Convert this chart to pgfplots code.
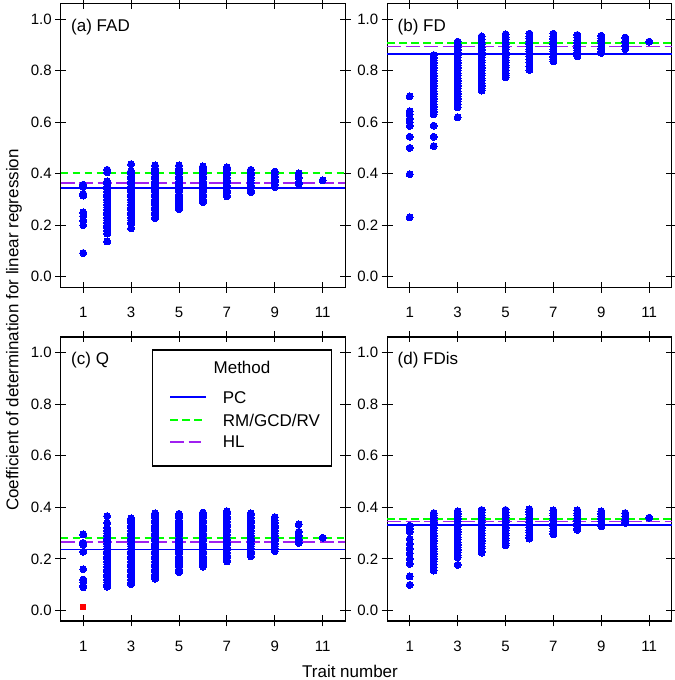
\documentclass[border=0pt]{standalone}
\usepackage{fontspec}
\setmainfont{Liberation Sans}
\usepackage{pgfplots}
\pgfplotsset{compat=1.18}
\definecolor{rblue}{HTML}{0000FF}
\definecolor{rgreen}{HTML}{00FF00}
\definecolor{rpurple}{HTML}{A020F0}
\definecolor{rred}{HTML}{FF0000}
\tikzset{
  pcline/.style={rblue, line width=1.7bp},
  rmline/.style={rgreen, line width=1.9bp, dash pattern=on 7.5bp off 4.5bp},
  hlline/.style={rpurple, line width=1.9bp, dash pattern=on 14bp off 4.5bp},
  plab/.style={anchor=base west, font=\fontsize{17bp}{20bp}\selectfont, xshift=7bp, yshift=-28bp},
}
\pgfplotsset{
  panel/.style={
    scale only axis, width=284.5bp, height=284bp, anchor=south west,
    xmin=0.06, xmax=11.94, ymin=-0.0408, ymax=1.0608,
    xtick={1,3,5,7,9,11}, ytick={0,0.2,0.4,0.6,0.8,1.0},
    minor tick num=0,
    tick align=center, major tick length=11bp,
    every tick/.style={black, line width=0.9bp},
    axis line style={black, line width=1.4bp},
    /pgf/number format/assume math mode=true,
    yticklabel style={/pgf/number format/fixed,/pgf/number format/fixed zerofill,/pgf/number format/precision=1},
    ticklabel style={font=\fontsize{15bp}{18bp}\selectfont},
    xticklabel shift=11bp,
    clip=false,
  },
  dots/.style={only marks, mark=*, mark size=3.5bp, color=rblue, mark options={fill=rblue, draw=rblue, line width=0pt}},
}
\begin{document}
\begin{tikzpicture}[x=1bp,y=1bp]
\useasboundingbox (0,0) rectangle (675,680);
% (a) FAD
\begin{axis}[panel, at={(60.7bp,392.7bp)}]
\addplot[dots] coordinates {
(1,0.357)(1,0.350)(1,0.322)(1,0.315)(1,0.250)(1,0.235)(1,0.218)(1,0.200)(1,0.092)
(2,0.415)(2,0.405)(2,0.370)(2,0.360)(2,0.350)(2,0.340)(2,0.330)(2,0.320)(2,0.310)(2,0.300)(2,0.290)(2,0.280)(2,0.270)(2,0.260)(2,0.250)(2,0.240)(2,0.230)(2,0.220)(2,0.210)(2,0.200)(2,0.190)(2,0.180)(2,0.168)(2,0.137)
(3,0.437)(3,0.410)(3,0.400)(3,0.390)(3,0.380)(3,0.370)(3,0.360)(3,0.350)(3,0.340)(3,0.330)(3,0.320)(3,0.310)(3,0.300)(3,0.290)(3,0.280)(3,0.270)(3,0.260)(3,0.250)(3,0.240)(3,0.230)(3,0.220)(3,0.210)(3,0.205)(3,0.188)
(4,0.432)(4,0.420)(4,0.410)(4,0.400)(4,0.390)(4,0.380)(4,0.370)(4,0.360)(4,0.350)(4,0.340)(4,0.330)(4,0.320)(4,0.310)(4,0.300)(4,0.290)(4,0.280)(4,0.270)(4,0.260)(4,0.250)(4,0.240)(4,0.230)(4,0.228)
(5,0.432)(5,0.420)(5,0.410)(5,0.400)(5,0.390)(5,0.380)(5,0.370)(5,0.360)(5,0.350)(5,0.340)(5,0.330)(5,0.320)(5,0.310)(5,0.300)(5,0.290)(5,0.280)(5,0.270)(5,0.262)
(6,0.428)(6,0.420)(6,0.410)(6,0.400)(6,0.390)(6,0.380)(6,0.370)(6,0.360)(6,0.350)(6,0.340)(6,0.330)(6,0.320)(6,0.310)(6,0.300)(6,0.290)
(7,0.425)(7,0.415)(7,0.405)(7,0.395)(7,0.385)(7,0.375)(7,0.365)(7,0.355)(7,0.345)(7,0.335)(7,0.325)(7,0.315)(7,0.312)
(8,0.415)(8,0.405)(8,0.395)(8,0.385)(8,0.375)(8,0.365)(8,0.355)(8,0.345)(8,0.335)(8,0.328)
(9,0.408)(9,0.398)(9,0.388)(9,0.378)(9,0.368)(9,0.358)(9,0.348)
(10,0.401)(10,0.385)(10,0.365)(10,0.360)
(11,0.374)
};
\addplot[pcline] coordinates {(0.06,0.345)(11.94,0.345)};
\addplot[rmline] coordinates {(0.06,0.401)(11.94,0.401)};
\addplot[hlline] coordinates {(0.06,0.365)(11.94,0.365)};
\node[plab] at (rel axis cs:0,1) {(a) FAD};
\end{axis}
% (b) FD
\begin{axis}[panel, at={(387.2bp,392.7bp)}]
\addplot[dots] coordinates {
(1,0.700)(1,0.642)(1,0.630)(1,0.612)(1,0.600)(1,0.585)(1,0.543)(1,0.500)(1,0.398)(1,0.231)
(2,0.860)(2,0.850)(2,0.840)(2,0.830)(2,0.820)(2,0.810)(2,0.800)(2,0.790)(2,0.780)(2,0.770)(2,0.760)(2,0.750)(2,0.740)(2,0.730)(2,0.720)(2,0.710)(2,0.700)(2,0.690)(2,0.680)(2,0.670)(2,0.660)(2,0.650)(2,0.640)(2,0.630)(2,0.586)(2,0.543)(2,0.507)
(3,0.912)(3,0.900)(3,0.890)(3,0.880)(3,0.870)(3,0.860)(3,0.850)(3,0.840)(3,0.830)(3,0.820)(3,0.810)(3,0.800)(3,0.790)(3,0.780)(3,0.770)(3,0.760)(3,0.750)(3,0.740)(3,0.730)(3,0.720)(3,0.710)(3,0.700)(3,0.690)(3,0.680)(3,0.670)(3,0.657)(3,0.618)
(4,0.932)(4,0.920)(4,0.910)(4,0.900)(4,0.890)(4,0.880)(4,0.870)(4,0.860)(4,0.850)(4,0.840)(4,0.830)(4,0.820)(4,0.810)(4,0.800)(4,0.790)(4,0.780)(4,0.770)(4,0.760)(4,0.750)(4,0.740)(4,0.730)(4,0.722)
(5,0.940)(5,0.930)(5,0.920)(5,0.910)(5,0.900)(5,0.890)(5,0.880)(5,0.870)(5,0.860)(5,0.850)(5,0.840)(5,0.830)(5,0.820)(5,0.810)(5,0.800)(5,0.790)(5,0.780)(5,0.774)
(6,0.943)(6,0.933)(6,0.923)(6,0.913)(6,0.903)(6,0.893)(6,0.883)(6,0.873)(6,0.863)(6,0.853)(6,0.843)(6,0.833)(6,0.815)(6,0.802)
(7,0.943)(7,0.933)(7,0.923)(7,0.913)(7,0.903)(7,0.893)(7,0.883)(7,0.873)(7,0.863)(7,0.853)(7,0.843)(7,0.835)
(8,0.938)(8,0.928)(8,0.918)(8,0.908)(8,0.898)(8,0.888)(8,0.878)(8,0.868)(8,0.858)(8,0.855)
(9,0.935)(9,0.925)(9,0.915)(9,0.905)(9,0.895)(9,0.885)(9,0.875)(9,0.868)
(10,0.928)(10,0.912)(10,0.897)(10,0.883)
(11,0.912)
};
\addplot[pcline] coordinates {(0.06,0.865)(11.94,0.865)};
\addplot[rmline] coordinates {(0.06,0.908)(11.94,0.908)};
\addplot[hlline] coordinates {(0.06,0.893)(11.94,0.893)};
\node[plab] at (rel axis cs:0,1) {(b) FD};
\end{axis}
% (c) Q
\begin{axis}[panel, at={(60.7bp,59bp)}]
\addplot[dots] coordinates {
(1,0.295)(1,0.262)(1,0.255)(1,0.228)(1,0.160)(1,0.120)(1,0.110)(1,0.095)(1,0.090)
(2,0.366)(2,0.340)(2,0.320)(2,0.310)(2,0.300)(2,0.290)(2,0.280)(2,0.270)(2,0.260)(2,0.250)(2,0.240)(2,0.230)(2,0.220)(2,0.210)(2,0.200)(2,0.190)(2,0.180)(2,0.170)(2,0.160)(2,0.150)(2,0.140)(2,0.130)(2,0.120)(2,0.110)(2,0.100)(2,0.092)
(3,0.357)(3,0.350)(3,0.340)(3,0.330)(3,0.320)(3,0.310)(3,0.300)(3,0.290)(3,0.280)(3,0.270)(3,0.260)(3,0.250)(3,0.240)(3,0.230)(3,0.220)(3,0.210)(3,0.200)(3,0.190)(3,0.180)(3,0.170)(3,0.160)(3,0.150)(3,0.140)(3,0.130)(3,0.120)(3,0.110)(3,0.102)
(4,0.377)(4,0.370)(4,0.360)(4,0.350)(4,0.340)(4,0.330)(4,0.320)(4,0.310)(4,0.300)(4,0.290)(4,0.280)(4,0.270)(4,0.260)(4,0.250)(4,0.240)(4,0.230)(4,0.220)(4,0.210)(4,0.200)(4,0.190)(4,0.180)(4,0.170)(4,0.160)(4,0.150)(4,0.140)(4,0.130)(4,0.123)
(5,0.375)(5,0.370)(5,0.360)(5,0.350)(5,0.340)(5,0.330)(5,0.320)(5,0.310)(5,0.300)(5,0.290)(5,0.280)(5,0.270)(5,0.260)(5,0.250)(5,0.240)(5,0.230)(5,0.220)(5,0.210)(5,0.200)(5,0.190)(5,0.180)(5,0.170)(5,0.160)(5,0.150)(5,0.148)
(6,0.380)(6,0.370)(6,0.360)(6,0.350)(6,0.340)(6,0.330)(6,0.320)(6,0.310)(6,0.300)(6,0.290)(6,0.280)(6,0.270)(6,0.260)(6,0.250)(6,0.240)(6,0.230)(6,0.220)(6,0.210)(6,0.200)(6,0.190)(6,0.180)(6,0.170)
(7,0.385)(7,0.375)(7,0.365)(7,0.355)(7,0.345)(7,0.335)(7,0.325)(7,0.315)(7,0.305)(7,0.295)(7,0.285)(7,0.275)(7,0.265)(7,0.255)(7,0.245)(7,0.235)(7,0.225)(7,0.215)(7,0.205)(7,0.195)(7,0.190)
(8,0.377)(8,0.370)(8,0.360)(8,0.350)(8,0.340)(8,0.330)(8,0.320)(8,0.310)(8,0.300)(8,0.290)(8,0.280)(8,0.270)(8,0.260)(8,0.250)(8,0.240)(8,0.230)(8,0.220)(8,0.210)
(9,0.362)(9,0.350)(9,0.340)(9,0.330)(9,0.320)(9,0.310)(9,0.300)(9,0.290)(9,0.280)(9,0.270)(9,0.260)(9,0.250)(9,0.240)(9,0.230)
(10,0.334)(10,0.305)(10,0.290)(10,0.275)(10,0.262)
(11,0.282)
};
\addplot[only marks, mark=square*, mark size=2.6bp, color=rred, mark options={fill=rred, draw=rred, line width=0pt}] coordinates {(1,0.012)};
\addplot[pcline] coordinates {(0.06,0.237)(11.94,0.237)};
\addplot[rmline] coordinates {(0.06,0.282)(11.94,0.282)};
\addplot[hlline] coordinates {(0.06,0.266)(11.94,0.266)};
\node[plab] at (rel axis cs:0,1) {(c) Q};
\end{axis}
% (d) FDis
\begin{axis}[panel, at={(387.2bp,59bp)}]
\addplot[dots] coordinates {
(1,0.329)(1,0.318)(1,0.305)(1,0.277)(1,0.258)(1,0.240)(1,0.222)(1,0.200)(1,0.181)(1,0.132)(1,0.099)
(2,0.378)(2,0.370)(2,0.360)(2,0.350)(2,0.340)(2,0.330)(2,0.320)(2,0.310)(2,0.300)(2,0.290)(2,0.280)(2,0.270)(2,0.260)(2,0.250)(2,0.240)(2,0.230)(2,0.220)(2,0.210)(2,0.200)(2,0.190)(2,0.180)(2,0.168)(2,0.155)
(3,0.385)(3,0.375)(3,0.365)(3,0.355)(3,0.345)(3,0.335)(3,0.325)(3,0.315)(3,0.305)(3,0.295)(3,0.285)(3,0.275)(3,0.265)(3,0.255)(3,0.245)(3,0.235)(3,0.225)(3,0.215)(3,0.206)(3,0.177)
(4,0.390)(4,0.380)(4,0.370)(4,0.360)(4,0.350)(4,0.340)(4,0.330)(4,0.320)(4,0.310)(4,0.300)(4,0.290)(4,0.280)(4,0.270)(4,0.260)(4,0.250)(4,0.240)(4,0.230)(4,0.224)
(5,0.390)(5,0.380)(5,0.370)(5,0.360)(5,0.350)(5,0.340)(5,0.330)(5,0.320)(5,0.310)(5,0.300)(5,0.290)(5,0.280)(5,0.270)(5,0.260)(5,0.253)
(6,0.392)(6,0.382)(6,0.372)(6,0.362)(6,0.352)(6,0.342)(6,0.332)(6,0.322)(6,0.312)(6,0.302)(6,0.292)(6,0.282)(6,0.279)
(7,0.388)(7,0.378)(7,0.368)(7,0.358)(7,0.348)(7,0.338)(7,0.328)(7,0.318)(7,0.308)(7,0.298)(7,0.296)
(8,0.388)(8,0.378)(8,0.368)(8,0.358)(8,0.348)(8,0.338)(8,0.328)(8,0.318)(8,0.313)
(9,0.385)(9,0.375)(9,0.365)(9,0.355)(9,0.345)(9,0.335)(9,0.326)
(10,0.378)(10,0.365)(10,0.352)(10,0.340)
(11,0.360)
};
\addplot[pcline] coordinates {(0.06,0.332)(11.94,0.332)};
\addplot[rmline] coordinates {(0.06,0.355)(11.94,0.355)};
\addplot[hlline] coordinates {(0.06,0.345)(11.94,0.345)};
\node[plab] at (rel axis cs:0,1) {(d) FDis};
\end{axis}
% legend (panel c)
\draw[black, line width=1.3bp, fill=white] (152.7,330) rectangle (331.7,214);
\node[font=\fontsize{17bp}{20bp}\selectfont] at (242,312.7) {Method};
\draw[pcline] (170,282.7) -- (205.7,282.7);
\draw[rmline] (170,260) -- (205.7,260);
\draw[hlline] (170,238.3) -- (200.7,238.3);
\node[anchor=west, inner sep=0pt, font=\fontsize{17bp}{20bp}\selectfont] at (222.7,282.7) {PC};
\node[anchor=west, inner sep=0pt, font=\fontsize{17bp}{20bp}\selectfont] at (222.7,260) {RM/GCD/RV};
\node[anchor=west, inner sep=0pt, font=\fontsize{17bp}{20bp}\selectfont] at (222.7,238.3) {HL};
% axis titles
\node[rotate=90, anchor=base, font=\fontsize{17bp}{20bp}\selectfont] at (18.3,350) {Coefficient of determination for linear regression};
\node[anchor=base, font=\fontsize{17bp}{20bp}\selectfont] at (350,2.7) {Trait number};
\end{tikzpicture}
\end{document}
